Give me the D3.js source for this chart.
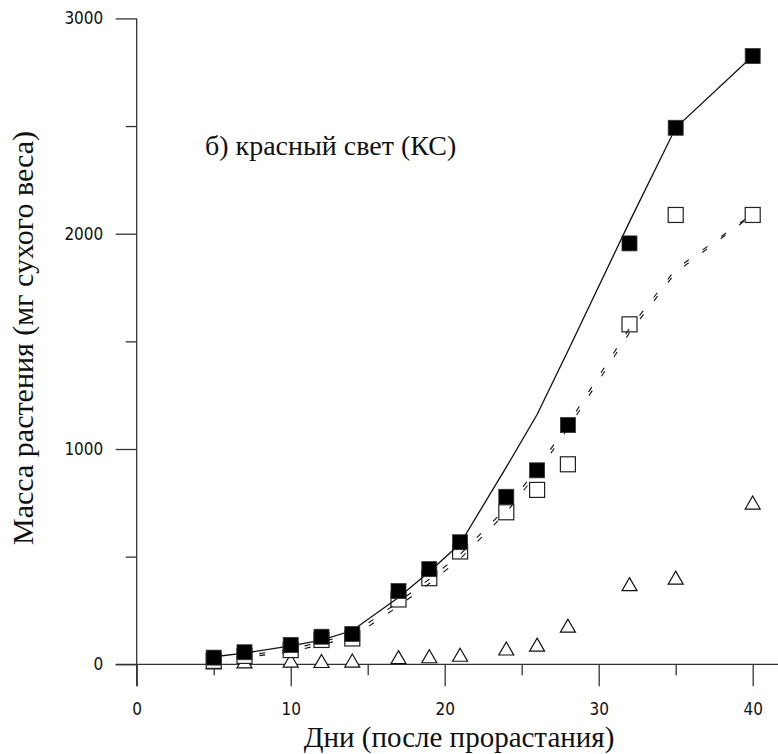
<!DOCTYPE html>
<html>
<head>
<meta charset="utf-8">
<script src="https://cdn.jsdelivr.net/npm/d3@7"></script>
<style>
  html, body { margin: 0; padding: 0; background: #fff; }
  svg { display: block; }
  .tick-label { font-family: "DejaVu Sans Condensed", "DejaVu Sans", sans-serif; font-stretch: condensed; font-size: 17px; fill: #111; }
  .serif { font-family: "Liberation Serif", "Times New Roman", serif; fill: #111; }
</style>
</head>
<body>
<svg id="chart" width="778" height="754"></svg>
<script>
// Days after germination at which the plants were weighed
const days = [5, 7, 10, 12, 14, 17, 19, 21, 24, 26, 28, 32, 35, 40];

// Measured dry mass, mg (red light)
const massFilled   = [31, 56, 90, 128, 141, 340, 442, 567, 778, 901, 1111, 1955, 2492, 2825];
const massOpen     = [16, 39, 66, 113, 120, 301, 400, 524, 706, 810, 929, 1579, 2087, 2087];
const massTriangle = [8, 12, 16, 14, 16, 32, 36, 43, 72, 90, 178, 371, 401, 750];

// Fitted growth curves
const fitSolid   = [35, 52, 86, 112, 157, 310, 430, 560, 916, 1160, 1455, 2055, 2492, 2825];
const fitDashedA = [20, 40, 70, 105, 140, 290, 395, 510, 726, 908, 1115, 1560, 1835, 2092];
const fitDashedB = [14, 32, 58, 92, 125, 270, 375, 490, 705, 888, 1095, 1540, 1820, 2088];

// Axis ticks
const xMajorTicks = [0, 10, 20, 30, 40];
const xMinorTicks = [5, 15, 25, 35];
const yMajorTicks = [0, 1000, 2000, 3000];
const yMinorTicks = [500, 1500, 2500];

const xTitle = "Дни (после прорастания)";
const yTitle = "Масса растения (мг сухого веса)";
const panelLabel = "б) красный свет (КС)";

const svg = d3.select("#chart");

const x = d3.scaleLinear().domain([0, 40]).range([136.7, 752.7]);
const y = d3.scaleLinear().domain([0, 3000]).range([664.3, 18.4]);

const axisColor = "#333";
const axisWidth = 1.3;

// ---- axes ----
const yAxisG = svg.append("g").attr("transform", `translate(${x(0)},0)`);
yAxisG.call(d3.axisLeft(y).tickValues(yMajorTicks).tickSize(21).tickPadding(12.4).tickFormat(d3.format("d")));
const yMinorG = svg.append("g").attr("transform", `translate(${x(0)},0)`);
yMinorG.call(d3.axisLeft(y).tickValues(yMinorTicks).tickSize(11).tickFormat(""));

const xAxisG = svg.append("g").attr("transform", `translate(0,${y(0)})`);
xAxisG.call(d3.axisBottom(x).tickValues(xMajorTicks).tickSize(22).tickPadding(16.7).tickFormat(d3.format("d")));
const xMinorG = svg.append("g").attr("transform", `translate(0,${y(0)})`);
xMinorG.call(d3.axisBottom(x).tickValues(xMinorTicks).tickSize(11).tickFormat(""));

[yAxisG, yMinorG, xAxisG, xMinorG].forEach(g => {
  g.select(".domain").remove();
  g.selectAll(".tick line").attr("stroke", axisColor).attr("stroke-width", axisWidth);
  g.selectAll(".tick text").attr("class", "tick-label").attr("font-family", null).attr("font-size", null);
});
yAxisG.attr("font-family", null).attr("font-size", null);
xAxisG.attr("font-family", null).attr("font-size", null);

// vertical axis line (runs down to the zero-day tick)
svg.append("line")
  .attr("x1", x(0)).attr("x2", x(0))
  .attr("y1", y(3000)).attr("y2", y(0) + 22)
  .attr("stroke", axisColor).attr("stroke-width", axisWidth);

// zero line spanning the plot width
svg.append("line")
  .attr("x1", x(0) - 21).attr("x2", 778)
  .attr("y1", y(0)).attr("y2", y(0))
  .attr("stroke", axisColor).attr("stroke-width", axisWidth);

// ---- titles ----
svg.append("text")
  .attr("class", "serif")
  .attr("x", 459).attr("y", 747)
  .attr("text-anchor", "middle")
  .attr("font-size", 29)
  .text(xTitle);

svg.append("text")
  .attr("class", "serif")
  .attr("transform", "translate(33.3,338) rotate(-90)")
  .attr("text-anchor", "middle")
  .attr("font-size", 30)
  .text(yTitle);

svg.append("text")
  .attr("class", "serif")
  .attr("x", 205).attr("y", 155)
  .attr("font-size", 28)
  .text(panelLabel);

// ---- marks ----
const pts = arr => days.map((d, i) => [d, arr[i]]);
const line = d3.line().x(d => x(d[0])).y(d => y(d[1]));

// triangles
const triPath = "M0,-6.8 L7.5,6.2 L-7.5,6.2 Z";
svg.append("g").selectAll("path")
  .data(pts(massTriangle))
  .join("path")
  .attr("d", triPath)
  .attr("transform", d => `translate(${x(d[0])},${y(d[1])})`)
  .attr("fill", "#fff")
  .attr("stroke", "#111")
  .attr("stroke-width", 1.2);

// open squares
const sq = 15;
svg.append("g").selectAll("rect")
  .data(pts(massOpen))
  .join("rect")
  .attr("x", d => x(d[0]) - sq / 2)
  .attr("y", d => y(d[1]) - sq / 2)
  .attr("width", sq).attr("height", sq)
  .attr("fill", "#fff")
  .attr("stroke", "#222")
  .attr("stroke-width", 1.2);

// dashed fits
[fitDashedA, fitDashedB].forEach(arr => {
  svg.append("path")
    .attr("d", line(pts(arr)))
    .attr("fill", "none")
    .attr("stroke", "#111")
    .attr("stroke-width", 1.1)
    .attr("stroke-dasharray", "6,17");
});

// solid fit
svg.append("path")
  .attr("d", line(pts(fitSolid)))
  .attr("fill", "none")
  .attr("stroke", "#111")
  .attr("stroke-width", 1.3);

// filled squares
svg.append("g").selectAll("rect")
  .data(pts(massFilled))
  .join("rect")
  .attr("x", d => x(d[0]) - sq / 2)
  .attr("y", d => y(d[1]) - sq / 2)
  .attr("width", sq).attr("height", sq)
  .attr("fill", "#000")
  .attr("stroke", "#333")
  .attr("stroke-width", 0.8);
</script>
</body>
</html>
